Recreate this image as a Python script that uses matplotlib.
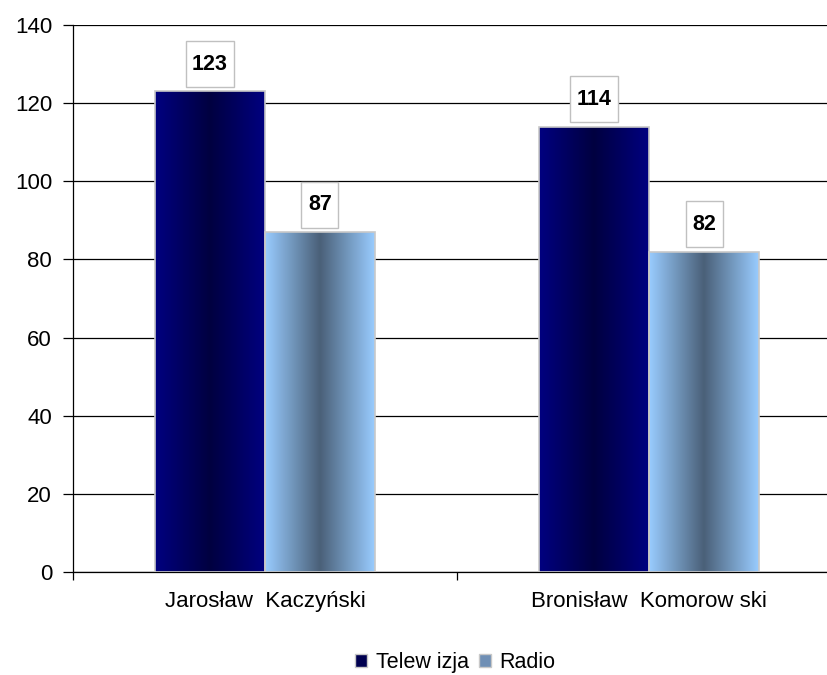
import numpy as np
import matplotlib.pyplot as plt
from matplotlib.colors import LinearSegmentedColormap
from matplotlib.patches import Patch, Rectangle

plt.rcParams['font.family'] = ['Liberation Sans', 'DejaVu Sans']

candidates = ['Jarosław  Kaczyński', 'Bronisław  Komorow ski']
series = ['Telew izja', 'Radio']
telewizja = [123, 114]
radio = [87, 82]

tv_cmap = LinearSegmentedColormap.from_list('tv', ['#000080', '#000040', '#000080'])
radio_cmap = LinearSegmentedColormap.from_list('radio', ['#99CCFF', '#4A6078', '#99CCFF'])

fig = plt.figure(figsize=(8.28, 6.75), dpi=100)
ax = fig.add_axes([0.088, 0.1526, 0.928, 0.8104])

x = np.arange(len(candidates))
w = 0.286
ax.set_xlim(-0.5, 1.5)
ax.set_ylim(0, 140)
ax.set_yticks(range(0, 141, 20))
ax.yaxis.grid(True, color='black', linewidth=0.9)
ax.set_axisbelow(True)

grad = np.linspace(0, 1, 256).reshape(1, -1)
labels = []
for vals, cmap, off in [(telewizja, tv_cmap, -w / 2), (radio, radio_cmap, w / 2)]:
    bars = ax.bar(x + off, vals, w, facecolor='none', edgecolor='#C8C8C8', linewidth=1.2, zorder=3)
    for b, v in zip(bars, vals):
        x0 = b.get_x()
        im = ax.imshow(grad, cmap=cmap, aspect='auto', extent=[x0, x0 + w, 0, v], zorder=2)
        im.set_clip_path(b)
        t = ax.text(x0 + w / 2, v + 7.0, str(v), ha='center', va='center',
                    fontsize=15.5, fontweight='bold', zorder=5)
        labels.append((t, x0 + w / 2, v))

ax.set_xlim(-0.5, 1.5)
ax.set_ylim(0, 140)
ax.set_xticks([-0.5, 0.5, 1.5])
ax.set_xticklabels([])
ax.set_xticks(x, minor=True)
ax.set_xticklabels(candidates, minor=True, fontsize=16)
ax.tick_params(axis='x', which='minor', length=0, pad=14)
ax.tick_params(axis='x', which='major', length=6, width=0.9)
ax.tick_params(axis='y', length=7, width=0.9, labelsize=16, pad=8)
for s in ['top', 'right']:
    ax.spines[s].set_visible(False)
for s in ['left', 'bottom']:
    ax.spines[s].set_linewidth(0.9)

# boxes around value labels, sized from the rendered text
fig.canvas.draw()
r = fig.canvas.get_renderer()
px_per_x = ax.transData.transform((1, 0))[0] - ax.transData.transform((0, 0))[0]
px_per_y = ax.transData.transform((0, 1))[1] - ax.transData.transform((0, 0))[1]
for t, cx, v in labels:
    bb = t.get_window_extent(r)
    bw = (bb.width + 13) / px_per_x
    bh = 46 / px_per_y
    y0 = v + 1.1
    ax.add_patch(Rectangle((cx - bw / 2, y0), bw, bh, facecolor='white',
                           edgecolor='#C0C0C0', linewidth=1.0, zorder=4, clip_on=False))
    t.set_y(y0 + bh / 2)

handles = [Patch(facecolor='#000050', edgecolor='#C8C8C8'),
           Patch(facecolor='#6F8FB5', edgecolor='#C8C8C8')]
fig.legend(handles, series, loc='center', bbox_to_anchor=(0.55, 0.018), ncol=2,
           frameon=False, fontsize=15.5, handlelength=0.55, handleheight=0.55,
           handletextpad=0.4, columnspacing=0.5)

fig.savefig('out.png', dpi=100)
